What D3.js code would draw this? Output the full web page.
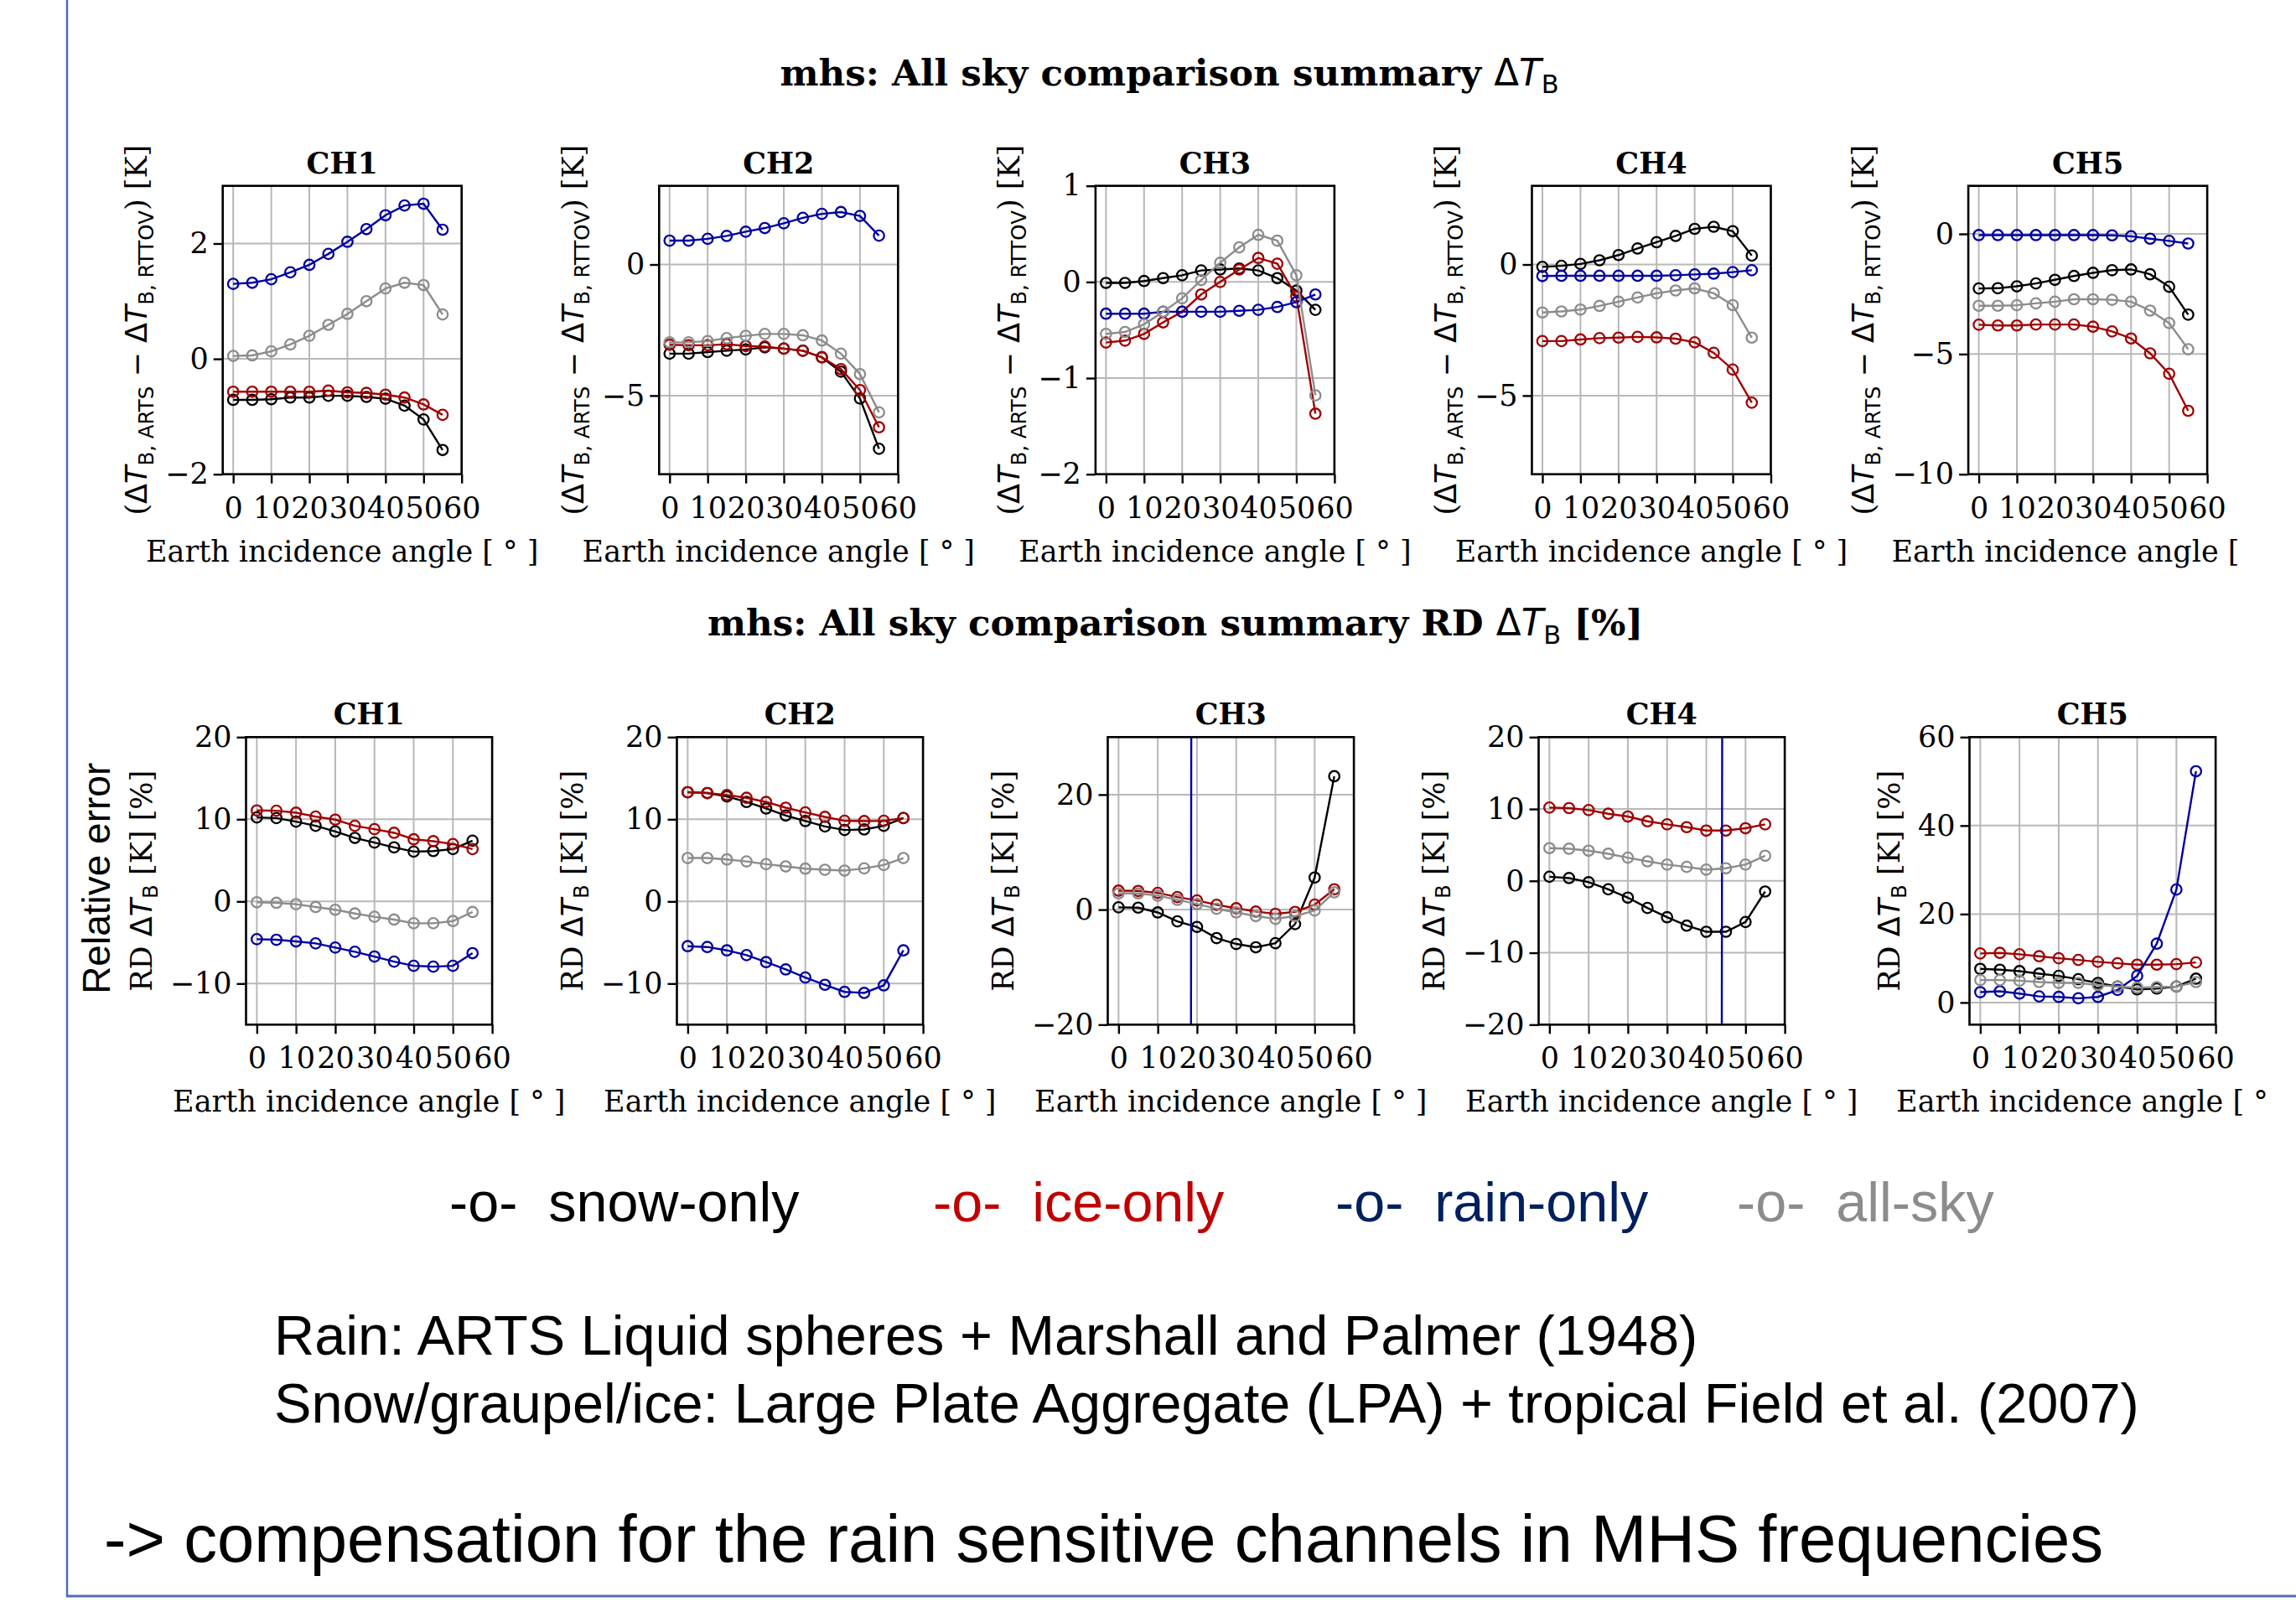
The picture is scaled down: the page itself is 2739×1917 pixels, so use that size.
<!DOCTYPE html>
<html>
<head>
<meta charset="utf-8">
<script src="https://cdn.jsdelivr.net/npm/d3@7"></script>
<style>
  body { margin: 0; background: #fff; }
  svg { display: block; }
  text { white-space: pre; }
</style>
</head>
<body>
<svg id="fig" width="2739" height="1917"></svg>
<script>
// ---- data ----
const angles = [0, 5, 10, 15, 20, 25, 30, 35, 40, 45, 50, 55];
const channels = ["CH1", "CH2", "CH3", "CH4", "CH5"];
const xTicks = [0, 10, 20, 30, 40, 50, 60];
const seriesNames = ["snow-only", "ice-only", "rain-only", "all-sky"];

// top row: ΔTB(ARTS) - ΔTB(RTTOV) [K], one row per channel
const snowDiff = [
  [-0.71, -0.71, -0.70, -0.67, -0.67, -0.64, -0.64, -0.66, -0.69, -0.81, -1.05, -1.58],
  [-3.40, -3.40, -3.34, -3.29, -3.24, -3.16, -3.21, -3.29, -3.54, -4.09, -5.11, -7.03],
  [-0.01, -0.01, 0.01, 0.04, 0.07, 0.12, 0.13, 0.14, 0.12, 0.04, -0.09, -0.29],
  [-0.09, -0.05, 0.02, 0.16, 0.36, 0.61, 0.85, 1.09, 1.36, 1.44, 1.27, 0.34],
  [-2.27, -2.26, -2.18, -2.06, -1.91, -1.75, -1.62, -1.51, -1.48, -1.68, -2.20, -3.36]
];
const iceDiff = [
  [-0.57, -0.57, -0.57, -0.57, -0.57, -0.55, -0.58, -0.59, -0.62, -0.67, -0.79, -0.97],
  [-3.06, -3.08, -3.08, -3.04, -3.11, -3.13, -3.21, -3.29, -3.54, -3.99, -4.79, -6.21],
  [-0.63, -0.61, -0.54, -0.42, -0.31, -0.13, 0.00, 0.13, 0.25, 0.19, -0.15, -1.37],
  [-2.92, -2.92, -2.86, -2.81, -2.79, -2.76, -2.78, -2.83, -2.97, -3.37, -4.01, -5.27],
  [-3.78, -3.81, -3.81, -3.77, -3.77, -3.77, -3.86, -4.06, -4.35, -4.97, -5.82, -7.36]
];
const rainDiff = [
  [1.30, 1.32, 1.38, 1.50, 1.63, 1.82, 2.03, 2.25, 2.49, 2.66, 2.69, 2.24],
  [0.91, 0.91, 0.98, 1.09, 1.25, 1.39, 1.57, 1.78, 1.93, 2.00, 1.85, 1.10],
  [-0.33, -0.33, -0.33, -0.31, -0.31, -0.31, -0.31, -0.30, -0.29, -0.26, -0.21, -0.13],
  [-0.44, -0.43, -0.43, -0.43, -0.43, -0.43, -0.43, -0.41, -0.38, -0.35, -0.29, -0.22],
  [-0.05, -0.05, -0.05, -0.05, -0.05, -0.05, -0.05, -0.06, -0.10, -0.20, -0.29, -0.40]
];
const allskyDiff = [
  [0.05, 0.06, 0.13, 0.25, 0.40, 0.59, 0.78, 1.00, 1.22, 1.32, 1.28, 0.77],
  [-2.97, -2.97, -2.92, -2.81, -2.72, -2.65, -2.65, -2.70, -2.90, -3.40, -4.18, -5.64],
  [-0.54, -0.52, -0.44, -0.31, -0.17, 0.02, 0.20, 0.36, 0.49, 0.43, 0.07, -1.18],
  [-1.83, -1.79, -1.72, -1.58, -1.42, -1.26, -1.10, -0.99, -0.91, -1.10, -1.55, -2.79],
  [-2.99, -2.99, -2.97, -2.89, -2.82, -2.72, -2.72, -2.74, -2.82, -3.19, -3.71, -4.80]
];

// bottom row: relative difference RD ΔTB [%]
const snowRD = [
  [10.22, 10.15, 9.71, 9.20, 8.52, 7.73, 7.16, 6.58, 6.06, 6.13, 6.37, 7.39],
  [13.29, 13.19, 12.78, 12.10, 11.31, 10.46, 9.78, 9.13, 8.69, 8.76, 9.20, 10.15],
  [0.39, 0.34, -0.49, -2.04, -3.01, -4.95, -5.97, -6.55, -5.83, -2.52, 5.58, 23.20],
  [0.58, 0.39, -0.19, -1.17, -2.33, -3.77, -5.06, -6.23, -7.08, -7.08, -5.72, -1.48],
  [7.60, 7.41, 7.10, 6.53, 6.02, 5.26, 4.44, 3.61, 2.98, 3.17, 3.61, 5.39]
];
const iceRD = [
  [11.07, 11.04, 10.80, 10.32, 9.95, 9.20, 8.79, 8.35, 7.56, 7.33, 6.98, 6.37],
  [13.29, 13.19, 12.95, 12.61, 12.10, 11.41, 10.83, 10.29, 9.81, 9.78, 9.81, 10.15],
  [3.30, 3.25, 2.91, 2.18, 1.60, 0.83, 0.24, -0.34, -0.73, -0.39, 0.87, 3.54],
  [10.19, 10.12, 9.84, 9.34, 8.95, 8.29, 7.86, 7.47, 7.00, 7.00, 7.32, 7.86],
  [11.09, 11.22, 10.90, 10.46, 10.01, 9.63, 9.19, 8.87, 8.56, 8.56, 8.68, 9.06]
];
// rain-only RD blows up in CH3/CH4 (near-zero denominator): only the crossing shows
const rainRD = [
  [-4.60, -4.67, -4.87, -5.11, -5.62, -6.13, -6.71, -7.33, -7.84, -7.94, -7.84, -6.30],
  [-5.45, -5.55, -5.96, -6.54, -7.39, -8.28, -9.27, -10.15, -11.01, -11.14, -10.22, -5.96],
  [-300, -380, -560, -2800, 1200, 520, 330, 240, 190, 150, 125, 105],
  [-110, -120, -140, -170, -210, -280, -390, -620, -1600, 400, 190, 120],
  [2.34, 2.53, 2.03, 1.39, 1.27, 0.95, 1.27, 2.85, 6.02, 13.31, 25.54, 52.28]
];
const allskyRD = [
  [-0.10, -0.17, -0.34, -0.68, -1.02, -1.47, -1.87, -2.21, -2.66, -2.66, -2.39, -1.29],
  [5.28, 5.28, 5.11, 4.87, 4.53, 4.26, 3.99, 3.85, 3.75, 4.02, 4.43, 5.28],
  [2.82, 2.82, 2.43, 1.70, 0.97, 0.15, -0.49, -1.12, -1.60, -1.12, -0.15, 3.01],
  [4.55, 4.47, 4.20, 3.77, 3.23, 2.72, 2.26, 1.95, 1.56, 1.75, 2.26, 3.50],
  [5.07, 5.07, 4.94, 4.63, 4.44, 4.44, 3.93, 3.61, 3.36, 3.49, 3.61, 4.63]
];

const diffDomains = [[-2, 3], [-8, 3], [-2, 1], [-8, 3], [-10, 2]];
const diffTicks = [[-2, 0, 2], [-5, 0], [-2, -1, 0, 1], [-5, 0], [-10, -5, 0]];
const rdDomains = [[-15, 20], [-15, 20], [-20, 30], [-20, 20], [-5, 60]];
const rdTicks = [[-10, 0, 10, 20], [-10, 0, 10, 20], [-20, 0, 20], [-20, -10, 0, 10, 20], [0, 20, 40, 60]];

// ---- style ----
const SERIF = "'DejaVu Serif', serif";
const SANS = "'DejaVu Sans', sans-serif";
const SLIDE = "'Liberation Sans', Arial, sans-serif";
const FS = 35;
const lineColors = ["#000000", "#a00000", "#0000a0", "#8c8c8c"];
const legendColors = ["#000000", "#c00000", "#002060", "#8c8c8c"];

const svg = d3.select("#fig");
svg.append("rect").attr("width", 2739).attr("height", 1917).attr("fill", "#fff");

// mathtext-ish label: segments of [text, kind]
function addMath(sel, segs, size) {
  let shift = 0;
  segs.forEach(([t, kind]) => {
    const ts = sel.append("tspan").text(t);
    const target = kind === "sub" ? 0.22 * size : 0;
    if (target !== shift) ts.attr("dy", target - shift);
    shift = target;
    ts.attr("font-family", (kind === "serif" || kind === "bold") ? SERIF : SANS)
      .attr("font-size", kind === "sub" ? size * 0.7 : size)
      .attr("font-style", kind === "it" ? "italic" : "normal")
      .attr("font-weight", kind === "bold" ? "bold" : "normal");
  });
}

const rows = [
  { left0: 265.7, step: 520.6, width: 285, top: 221.7, bottom: 565.7, clip: [0, 0, 2680, 735],
    data: [snowDiff, iceDiff, rainDiff, allskyDiff], domains: diffDomains, ticks: diffTicks,
    ylabel: [["(", "serif"], ["Δ", "sans"], ["T", "it"], ["B, ARTS", "sub"], [" − ", "sans"],
             ["Δ", "sans"], ["T", "it"], ["B, RTTOV", "sub"], [") [K]", "serif"]] },
  { left0: 293.5, step: 514, width: 293.6, top: 879.3, bottom: 1222.3, clip: [0, 735, 2706, 620],
    data: [snowRD, iceRD, rainRD, allskyRD], domains: rdDomains, ticks: rdTicks,
    ylabel: [["RD ", "serif"], ["Δ", "sans"], ["T", "it"], ["B", "sub"], [" [K] [%]", "serif"]] }
];

const defs = svg.append("defs");

rows.forEach((row, r) => {
  defs.append("clipPath").attr("id", `row${r}`).append("rect")
    .attr("x", row.clip[0]).attr("y", row.clip[1]).attr("width", row.clip[2]).attr("height", row.clip[3]);
  const rowG = svg.append("g").attr("clip-path", `url(#row${r})`);

  channels.forEach((ch, c) => {
    const left = row.left0 + c * row.step, right = left + row.width;
    const x = d3.scaleLinear().domain([-2.75, 60]).range([left, right]);
    const y = d3.scaleLinear().domain(row.domains[c]).range([row.bottom, row.top]);
    const g = rowG.append("g");

    defs.append("clipPath").attr("id", `ax${r}${c}`).append("rect")
      .attr("x", left).attr("y", row.top).attr("width", row.width).attr("height", row.bottom - row.top);

    // grid
    const grid = g.append("g").attr("stroke", "#b8b8b8").attr("stroke-width", 2);
    xTicks.forEach(t => grid.append("line").attr("x1", x(t)).attr("x2", x(t)).attr("y1", row.top).attr("y2", row.bottom));
    row.ticks[c].forEach(t => grid.append("line").attr("x1", left).attr("x2", right).attr("y1", y(t)).attr("y2", y(t)));

    // series
    const plot = g.append("g").attr("clip-path", `url(#ax${r}${c})`);
    const line = d3.line().x((d, i) => x(angles[i])).y(d => y(d));
    row.data.forEach((series, s) => {
      const vals = series[c];
      plot.append("path").attr("d", line(vals)).attr("fill", "none")
        .attr("stroke", lineColors[s]).attr("stroke-width", 2.4);
      plot.selectAll(null).data(vals).join("circle")
        .attr("cx", (d, i) => x(angles[i])).attr("cy", d => y(d)).attr("r", 6.2)
        .attr("fill", "none").attr("stroke", lineColors[s]).attr("stroke-width", 2.3);
    });

    // axes
    const xAxis = g.append("g").attr("transform", `translate(0,${row.bottom})`)
      .call(d3.axisBottom(x).tickValues(xTicks).tickSize(11).tickPadding(16).tickFormat(d3.format("d")));
    const yAxis = g.append("g").attr("transform", `translate(${left},0)`)
      .call(d3.axisLeft(y).tickValues(row.ticks[c]).tickSize(11).tickPadding(6).tickFormat(d3.format("d")));
    [xAxis, yAxis].forEach(a => {
      a.select(".domain").remove();
      a.selectAll(".tick line").attr("stroke", "#000").attr("stroke-width", 2.4);
      a.selectAll(".tick text").attr("font-family", SERIF).attr("font-size", FS).attr("fill", "#000");
    });

    g.append("rect").attr("x", left).attr("y", row.top).attr("width", row.width)
      .attr("height", row.bottom - row.top).attr("fill", "none").attr("stroke", "#000").attr("stroke-width", 2.6);

    // title
    g.append("text").attr("x", (left + right) / 2).attr("y", row.top - 15)
      .attr("text-anchor", "middle").attr("font-family", SERIF).attr("font-weight", "bold")
      .attr("font-size", FS).text(ch);

    // x label
    g.append("text").attr("x", (left + right) / 2).attr("y", row.bottom + 104)
      .attr("text-anchor", "middle").attr("font-family", SERIF).attr("font-size", FS)
      .text("Earth incidence angle [ ° ]");

    // y label, placed left of the widest tick label
    let tw = 0;
    yAxis.selectAll(".tick text").each(function () { tw = Math.max(tw, this.getComputedTextLength()); });
    const lx = left - 11 - 6 - tw - 22;
    const cy = (row.top + row.bottom) / 2;
    const yl = g.append("text").attr("text-anchor", "middle")
      .attr("transform", `translate(${lx},${cy}) rotate(-90)`);
    addMath(yl, row.ylabel, FS);

    if (r === 1 && c === 0) {
      g.append("text").attr("text-anchor", "middle")
        .attr("transform", `translate(${lx - 50},${cy - 3}) rotate(-90)`)
        .attr("font-family", SLIDE).attr("font-size", 46).text("Relative error");
    }
  });
});

// figure titles
const sup1 = svg.append("text").attr("x", 1395).attr("y", 101.7).attr("text-anchor", "middle");
addMath(sup1, [["mhs: All sky comparison summary ", "bold"], ["Δ", "sans"], ["T", "it"], ["B", "sub"]], 43.6);
const sup2 = svg.append("text").attr("x", 1402).attr("y", 758).attr("text-anchor", "middle");
addMath(sup2, [["mhs: All sky comparison summary RD ", "bold"], ["Δ", "sans"], ["T", "it"], ["B", "sub"], [" [%]", "bold"]], 43.6);

// slide legend
const legendX = [536, 1113, 1593, 2072];
seriesNames.forEach((name, i) => {
  svg.append("text").attr("x", legendX[i]).attr("y", 1457)
    .attr("font-family", SLIDE).attr("font-size", 66.5).attr("fill", legendColors[i])
    .text(`-o-  ${name}`);
});

// slide notes
const notes = [
  { t: "Rain: ARTS Liquid spheres + Marshall and Palmer (1948)", x: 327, y: 1616, s: 66.7 },
  { t: "Snow/graupel/ice: Large Plate Aggregate (LPA) + tropical Field et al. (2007)", x: 327, y: 1697, s: 66.7 },
  { t: "-> compensation for the rain sensitive channels in MHS frequencies", x: 124, y: 1863, s: 79.7 }
];
notes.forEach(n => {
  svg.append("text").attr("x", n.x).attr("y", n.y).attr("font-family", SLIDE)
    .attr("font-size", n.s).attr("fill", "#000").text(n.t);
});

// slide frame lines
svg.append("line").attr("x1", 80).attr("x2", 80).attr("y1", 0).attr("y2", 1905)
  .attr("stroke", "#4f6fae").attr("stroke-width", 2.5);
svg.append("line").attr("x1", 79).attr("x2", 2739).attr("y1", 1904).attr("y2", 1904)
  .attr("stroke", "#4f6fae").attr("stroke-width", 3);
</script>
</body>
</html>
